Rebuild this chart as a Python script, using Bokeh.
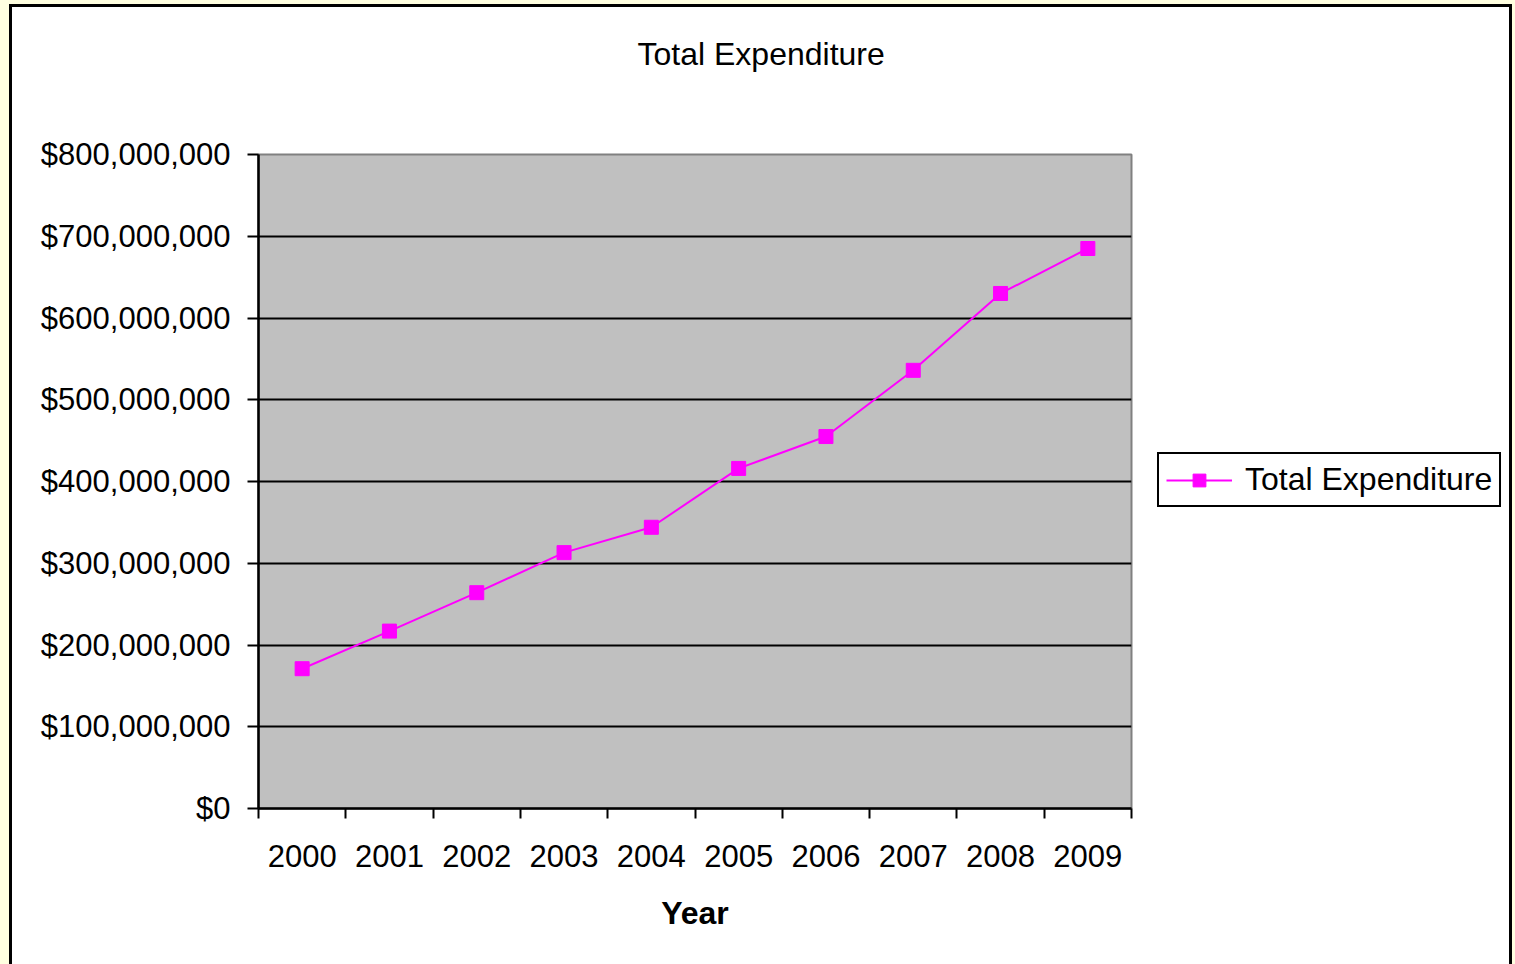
from bokeh.plotting import figure
from bokeh.models import (FixedTicker, NumeralTickFormatter, Legend, LegendItem,
                          ColumnDataSource, Range1d, GlobalInlineStyleSheet)
from bokeh.embed import file_html
from bokeh.resources import INLINE

# ---- data ----
years = ["2000", "2001", "2002", "2003", "2004", "2005", "2006", "2007", "2008", "2009"]
expenditure = [171e6, 217e6, 264e6, 313e6, 344e6, 416e6, 455e6, 536e6, 630e6, 685e6]
y_ticks = [0, 100e6, 200e6, 300e6, 400e6, 500e6, 600e6, 700e6, 800e6]
series_name = "Total Expenditure"
chart_title = "Total Expenditure"
x_label = "Year"

FONT = "Liberation Sans"
FS = "31px"

centers = [i + 0.5 for i in range(len(years))]
bounds = list(range(len(years) + 1))
src = ColumnDataSource(dict(x=centers, y=expenditure, year=years))

fl, ft = 246, 147
FW, FH = 873, 654

p = figure(frame_width=FW, frame_height=FH,
           output_backend="svg", toolbar_location=None,
           x_range=Range1d(0, len(years)), y_range=Range1d(y_ticks[0], y_ticks[-1]),
           min_border_left=fl, min_border_right=0,
           min_border_top=ft, min_border_bottom=156)

p.styles = {"border": "3px solid black", "border-bottom": "none",
            "margin-left": "9px", "margin-top": "4px", "background-color": "white",
            "width": "1503px", "height": "960px", "box-sizing": "border-box",
            "overflow": "hidden"}
p.stylesheets = [GlobalInlineStyleSheet(css="html, body { background-color: #FFFFE0; overflow: hidden; }")]

p.background_fill_color = "#C0C0C0"
p.border_fill_color = "white"
p.outline_line_color = "#808080"
p.outline_line_width = 2

# title (two blank trailing lines lift the visible line toward the top)
p.title.text = chart_title + "\n \n "
p.title.align = "left"
p.title.text_font = FONT
p.title.text_font_size = "32px"
p.title.text_font_style = "normal"
p.title.text_color = "black"
p.title.offset = 379
p.title.standoff = 21

# x axis
xa = p.xaxis[0]
xa.ticker = FixedTicker(ticks=centers, minor_ticks=bounds)
xa.major_label_overrides = {c: y for c, y in zip(centers, years)}
xa.major_tick_line_color = None
xa.minor_tick_out = 10
xa.minor_tick_in = 0
xa.minor_tick_line_color = "black"
xa.minor_tick_line_width = 2
xa.axis_line_color = "black"
xa.axis_line_width = 2.5
xa.major_label_text_font = FONT
xa.major_label_text_font_size = FS
xa.major_label_text_color = "black"
xa.major_label_standoff = 26
xa.axis_label = x_label
xa.axis_label_text_font = FONT
xa.axis_label_text_font_size = "32px"
xa.axis_label_text_font_style = "bold"
xa.axis_label_text_color = "black"
xa.axis_label_standoff = 25

# y axis
ya = p.yaxis[0]
ya.ticker = FixedTicker(ticks=y_ticks, minor_ticks=[])
ya.formatter = NumeralTickFormatter(format="$0,0")
ya.major_tick_out = 11
ya.major_tick_in = 0
ya.major_tick_line_width = 2
ya.major_tick_line_color = "black"
ya.axis_line_color = "black"
ya.axis_line_width = 2.5
ya.major_label_text_font = FONT
ya.major_label_text_font_size = FS
ya.major_label_text_color = "black"
ya.major_label_standoff = 17

p.xgrid.grid_line_color = None
p.ygrid.ticker = FixedTicker(ticks=y_ticks[1:-1])
p.ygrid.grid_line_color = "black"
p.ygrid.grid_line_width = 2
p.ygrid.grid_line_alpha = 1

ln = p.line("x", "y", source=src, line_color="#FF00FF", line_width=2)
sq = p.scatter("x", "y", source=src, marker="square", size=14,
               fill_color="#FF00FF", line_color="#FF00FF")

legend = Legend(items=[LegendItem(label=series_name, renderers=[ln, sq])],
                location=(26, 301))
legend.border_line_color = "black"
legend.border_line_width = 2
legend.border_line_alpha = 1
legend.background_fill_color = "white"
legend.background_fill_alpha = 1
legend.label_text_font = FONT
legend.label_text_font_size = "32px"
legend.label_text_color = "black"
legend.glyph_width = 66
legend.glyph_height = 32
legend.label_height = 32
legend.label_standoff = 13
legend.padding = 7
legend.margin = 0
legend.spacing = 0
p.add_layout(legend, "right")

open("out.html", "w").write(file_html(p, INLINE))
